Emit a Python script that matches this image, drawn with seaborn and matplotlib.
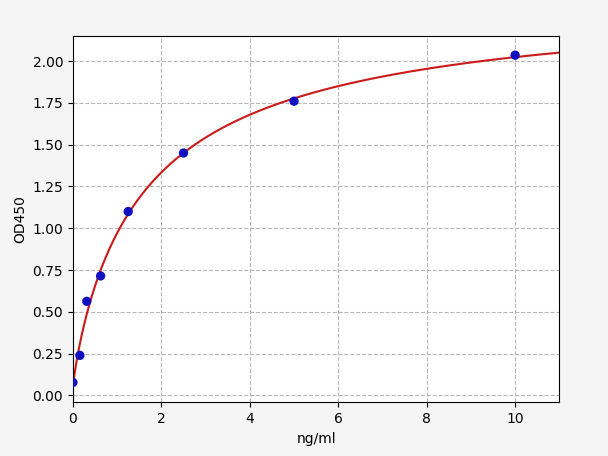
import numpy as np
import pandas as pd
import matplotlib
matplotlib.use('Agg')
import matplotlib.pyplot as plt
import seaborn as sns

# standard curve points
conc = [0, 0.156, 0.3125, 0.625, 1.25, 2.5, 5, 10]
od450 = [0.078, 0.24, 0.563, 0.715, 1.10, 1.45, 1.76, 2.035]

x = np.array(conc)
y = np.array(od450)


def fourpl_basis(xv, b, c):
    return 1.0 / (1.0 + (xv / c) ** b)


# 4PL fit: grid search over slope/midpoint, linear least squares for the asymptotes
best = None
for b in np.linspace(0.3, 2.5, 111):
    for c in np.exp(np.linspace(np.log(0.1), np.log(50), 200)):
        g = fourpl_basis(x, b, c)
        A = np.column_stack([g, 1 - g])
        coef, *_ = np.linalg.lstsq(A, y, rcond=None)
        err = np.sum((A @ coef - y) ** 2)
        if best is None or err < best[0]:
            best = (err, b, c, coef)

_, b, c, (a, d) = best
xfit = np.linspace(0, 11, 400)
gfit = fourpl_basis(xfit, b, c)
fit = pd.DataFrame({'x': xfit, 'y': a * gfit + d * (1 - gfit)})
pts = pd.DataFrame({'x': x, 'y': y})

fig, ax = plt.subplots(figsize=(6.08, 4.561), dpi=100)
fig.patch.set_facecolor('#f5f5f5')
ax.set_facecolor('white')

ax.grid(True, linestyle='--', color='#b8b8b8', linewidth=0.8)
ax.set_axisbelow(True)

sns.lineplot(data=fit, x='x', y='y', color='#cc1a1a', linewidth=1.5, ax=ax, zorder=2)
sns.scatterplot(data=pts, x='x', y='y', color='#1010c0', s=45, edgecolor='none', ax=ax, zorder=3)

ax.set_xlim(0, 11)
ax.set_ylim(-0.04, 2.15)
ax.set_xticks([0, 2, 4, 6, 8, 10])
ax.set_yticks([0, 0.25, 0.5, 0.75, 1.0, 1.25, 1.5, 1.75, 2.0])
ax.set_yticklabels([f'{v:.2f}' for v in [0, 0.25, 0.5, 0.75, 1.0, 1.25, 1.5, 1.75, 2.0]])
ax.set_xlabel('ng/ml')
ax.set_ylabel('OD450')

fig.subplots_adjust(left=0.12, right=0.92, top=0.921, bottom=0.118)
fig.savefig('out.png', dpi=100, facecolor=fig.get_facecolor())
